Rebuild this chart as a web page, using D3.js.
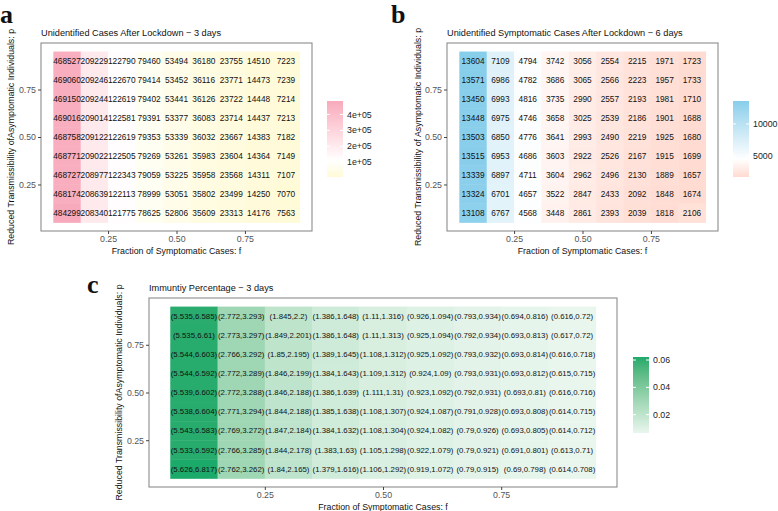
<!DOCTYPE html>
<html>
<head>
<meta charset="utf-8">
<script src="https://cdn.jsdelivr.net/npm/d3@7"></script>
<style>
  html, body { margin: 0; padding: 0; background: #fff; }
  svg text { font-family: "Liberation Sans", Arial, Helvetica, sans-serif; }
</style>
</head>
<body>
<svg id="chart" width="778" height="511"></svg>
<script>
// ---------- DATA ----------
const fValues = [0.1, 0.2, 0.3, 0.4, 0.5, 0.6, 0.7, 0.8, 0.9];        // columns
const pValues = [0.9, 0.8, 0.7, 0.6, 0.5, 0.4, 0.3, 0.2, 0.1];        // rows, top to bottom
const tickValues = [0.25, 0.5, 0.75];

const casesA = [
  [468527, 209229, 122790, 79460, 53494, 36180, 23755, 14510, 7223],
  [469060, 209246, 122670, 79414, 53452, 36116, 23771, 14473, 7239],
  [469150, 209244, 122619, 79402, 53441, 36126, 23722, 14448, 7214],
  [469016, 209014, 122581, 79391, 53377, 36083, 23714, 14437, 7213],
  [468758, 209122, 122619, 79353, 53339, 36032, 23667, 14383, 7182],
  [468771, 209022, 122505, 79269, 53261, 35983, 23604, 14364, 7149],
  [468727, 208977, 122343, 79059, 53225, 35958, 23568, 14311, 7107],
  [468174, 208639, 122113, 78999, 53051, 35802, 23499, 14250, 7070],
  [484299, 208340, 121775, 78625, 52806, 35609, 23313, 14176, 7563]
];
const legendTicksA = [100000, 200000, 300000, 400000];
const legendLabelsA = ["1e+05", "2e+05", "3e+05", "4e+05"];

const casesB = [
  [13604, 7109, 4794, 3742, 3056, 2554, 2215, 1971, 1723],
  [13571, 6986, 4782, 3686, 3065, 2566, 2223, 1957, 1733],
  [13450, 6993, 4816, 3735, 2990, 2557, 2193, 1981, 1710],
  [13448, 6975, 4746, 3658, 3025, 2539, 2186, 1901, 1688],
  [13503, 6850, 4776, 3641, 2993, 2490, 2219, 1925, 1680],
  [13515, 6953, 4686, 3603, 2922, 2526, 2167, 1915, 1699],
  [13339, 6897, 4711, 3604, 2962, 2496, 2130, 1889, 1657],
  [13324, 6701, 4657, 3522, 2847, 2433, 2092, 1848, 1674],
  [13108, 6767, 4568, 3448, 2861, 2393, 2039, 1818, 2106]
];
const legendTicksB = [5000, 10000];
const legendLabelsB = ["5000", "10000"];

const immunityLow = [
  [5.535, 2.772, 1.845, 1.386, 1.11, 0.926, 0.793, 0.694, 0.616],
  [5.535, 2.773, 1.849, 1.386, 1.11, 0.925, 0.792, 0.693, 0.617],
  [5.544, 2.766, 1.85, 1.389, 1.108, 0.925, 0.793, 0.693, 0.616],
  [5.544, 2.772, 1.846, 1.384, 1.109, 0.924, 0.793, 0.693, 0.615],
  [5.539, 2.772, 1.846, 1.386, 1.111, 0.923, 0.792, 0.693, 0.616],
  [5.538, 2.771, 1.844, 1.385, 1.108, 0.924, 0.791, 0.693, 0.614],
  [5.543, 2.769, 1.847, 1.384, 1.108, 0.924, 0.79, 0.693, 0.614],
  [5.533, 2.766, 1.844, 1.383, 1.105, 0.922, 0.79, 0.691, 0.613],
  [5.626, 2.762, 1.84, 1.379, 1.106, 0.919, 0.79, 0.69, 0.614]
];
const immunityHigh = [
  [6.585, 3.293, 2.2, 1.648, 1.316, 1.094, 0.934, 0.816, 0.72],
  [6.61, 3.297, 2.201, 1.648, 1.313, 1.094, 0.934, 0.813, 0.72],
  [6.603, 3.292, 2.195, 1.645, 1.312, 1.092, 0.932, 0.814, 0.718],
  [6.592, 3.289, 2.199, 1.643, 1.312, 1.09, 0.931, 0.812, 0.715],
  [6.602, 3.288, 2.188, 1.639, 1.31, 1.092, 0.931, 0.81, 0.716],
  [6.604, 3.294, 2.188, 1.638, 1.307, 1.087, 0.928, 0.808, 0.715],
  [6.583, 3.272, 2.184, 1.632, 1.304, 1.082, 0.926, 0.805, 0.712],
  [6.592, 3.285, 2.178, 1.63, 1.298, 1.079, 0.921, 0.801, 0.71],
  [6.817, 3.262, 2.165, 1.616, 1.292, 1.072, 0.915, 0.798, 0.708]
];
const legendTicksC = [0.02, 0.04, 0.06];
const legendLabelsC = ["0.02", "0.04", "0.06"];

// ---------- DRAWING ----------
const svg = d3.select("#chart");
svg.append("rect").attr("width", 778).attr("height", 511).attr("fill", "#fff");

function drawHeatmap(cfg) {
  const g = svg.append("g");
  const x = d3.scaleLinear().domain([0.005, 0.995]).range([cfg.left, cfg.right]);
  const y = d3.scaleLinear().domain([0.005, 0.995]).range([cfg.bottom, cfg.top]);

  const cells = [];
  pValues.forEach((p, i) => fValues.forEach((f, j) => {
    cells.push({ f, p, value: cfg.value(i, j), label: cfg.label(i, j) });
  }));

  const vals = cells.map(d => d.value);
  const color = cfg.color(vals);

  // panel border
  g.append("rect")
    .attr("x", cfg.left).attr("y", cfg.top)
    .attr("width", cfg.right - cfg.left).attr("height", cfg.bottom - cfg.top)
    .attr("fill", "#fff").attr("stroke", "#8c8c8c").attr("stroke-width", 1.1);

  // tiles
  g.selectAll("rect.tile").data(cells).join("rect")
    .attr("class", "tile")
    .attr("x", d => x(d.f - 0.05))
    .attr("y", d => y(d.p + 0.05))
    .attr("width", d => x(d.f + 0.05) - x(d.f - 0.05) + 0.4)
    .attr("height", d => y(d.p - 0.05) - y(d.p + 0.05) + 0.4)
    .attr("fill", d => color(d.value));

  // labels
  g.selectAll("text.lab").data(cells).join("text")
    .attr("class", "lab")
    .attr("x", d => x(d.f))
    .attr("y", d => y(d.p))
    .attr("dy", "0.35em")
    .attr("text-anchor", "middle")
    .attr("font-size", cfg.labelSize)
    .attr("fill", "#111")
    .text(d => d.label);

  // axes
  const xa = g.append("g").attr("transform", `translate(0,${cfg.bottom})`)
    .call(d3.axisBottom(x).tickValues(tickValues).tickFormat(d3.format(".2f")).tickSize(3).tickPadding(2));
  const ya = g.append("g").attr("transform", `translate(${cfg.left},0)`)
    .call(d3.axisLeft(y).tickValues(tickValues).tickFormat(d3.format(".2f")).tickSize(3).tickPadding(2));
  [xa, ya].forEach(a => {
    a.select(".domain").remove();
    a.selectAll(".tick line").attr("stroke", "#444");
    a.selectAll(".tick text").attr("fill", "#555").attr("font-size", 8.8)
      .attr("font-family", "Liberation Sans, Arial, sans-serif");
  });

  // titles
  g.append("text").attr("x", cfg.left).attr("y", cfg.top - 7)
    .attr("font-size", 9.2).attr("fill", "#111").text(cfg.title);
  g.append("text").attr("x", (cfg.left + cfg.right) / 2).attr("y", cfg.bottom + 23)
    .attr("text-anchor", "middle").attr("font-size", 8.8).attr("fill", "#111")
    .text("Fraction of Symptomatic Cases: f");
  g.append("text")
    .attr("transform", `translate(${cfg.yTitleX},${(cfg.top + cfg.bottom) / 2}) rotate(-90)`)
    .attr("dy", "0.35em").attr("text-anchor", "middle").attr("font-size", 8.8).attr("fill", "#111")
    .text(cfg.yTitle);

  // panel letter
  g.append("text").attr("x", cfg.letterX).attr("y", cfg.letterY)
    .attr("font-weight", "bold").attr("font-size", 26).attr("fill", "#111")
    .style("font-family", "'Liberation Serif', 'Times New Roman', serif")
    .text(cfg.letter);

  // colour bar legend
  const [vmin, vmax] = d3.extent(vals);
  const ly = d3.scaleLinear().domain([vmin, vmax]).range([cfg.legBottom, cfg.legTop]);
  const gradId = "grad" + cfg.letter;
  const grad = svg.append("defs").append("linearGradient").attr("id", gradId)
    .attr("x1", 0).attr("y1", 1).attr("x2", 0).attr("y2", 0);
  d3.range(0, 1.0001, 0.02).forEach(t => {
    grad.append("stop").attr("offset", t).attr("stop-color", color(vmin + t * (vmax - vmin)));
  });
  const lw = 16;
  g.append("rect").attr("x", cfg.legX).attr("y", cfg.legTop)
    .attr("width", lw).attr("height", cfg.legBottom - cfg.legTop)
    .attr("fill", `url(#${gradId})`);
  cfg.legTicks.forEach((t, k) => {
    const yy = ly(t);
    g.append("line").attr("x1", cfg.legX).attr("x2", cfg.legX + 3).attr("y1", yy).attr("y2", yy)
      .attr("stroke", "#fff").attr("stroke-width", 1);
    g.append("line").attr("x1", cfg.legX + lw - 3).attr("x2", cfg.legX + lw).attr("y1", yy).attr("y2", yy)
      .attr("stroke", "#fff").attr("stroke-width", 1);
    g.append("text").attr("x", cfg.legX + lw + 4).attr("y", yy).attr("dy", "0.35em")
      .attr("font-size", 8.8).attr("fill", "#222").text(cfg.legLabels[k]);
  });
}

function diverging(lowCol, highCol, midFn) {
  return vals => {
    const mid = midFn(vals);
    const [mn, mx] = d3.extent(vals);
    const span = Math.max(mx - mid, mid - mn);
    const lo = d3.interpolateLab("#ffffff", lowCol);
    const hi = d3.interpolateLab("#ffffff", highCol);
    return v => v >= mid ? hi((v - mid) / span) : lo((mid - v) / span);
  };
}

drawHeatmap({
  letter: "a", letterX: 0, letterY: 23,
  left: 41, right: 312, top: 43, bottom: 231,
  yTitleX: 11,
  title: "Unidentified  Cases After Lockdown \u2212 3 days",
  yTitle: "Reduced Transmissibility ofAsymptomatic Individuals: p",
  value: (i, j) => casesA[i][j],
  label: (i, j) => String(casesA[i][j]),
  labelSize: 8.3,
  color: diverging("#fff070", "#f7aabb", v => d3.mean(v)),
  legX: 327, legTop: 101, legBottom: 177,
  legTicks: legendTicksA, legLabels: legendLabelsA
});

drawHeatmap({
  letter: "b", letterX: 391, letterY: 23,
  left: 447, right: 718, top: 43, bottom: 231,
  yTitleX: 418,
  title: "Unidentified Symptomatic Cases After Lockdown \u2212 6 days",
  yTitle: "Reduced Transmissibility of Asymptomatic Individuals: p",
  value: (i, j) => casesB[i][j],
  label: (i, j) => String(casesB[i][j]),
  labelSize: 8.3,
  color: diverging("#f7866e", "#87ceeb", v => d3.mean(v)),
  legX: 733, legTop: 101, legBottom: 177,
  legTicks: legendTicksB, legLabels: legendLabelsB
});

drawHeatmap({
  letter: "c", letterX: 87, letterY: 293,
  left: 149, right: 617, top: 298, bottom: 487,
  yTitleX: 119,
  title: "Immuntiy Percentage \u2212 3 days",
  yTitle: "Reduced Transmissibility ofAsymptomatic Individuals: p",
  value: (i, j) => (immunityLow[i][j] + immunityHigh[i][j]) / 200,
  label: (i, j) => `(${immunityLow[i][j]},${immunityHigh[i][j]})`,
  labelSize: 7.8,
  color: vals => {
    const [mn, mx] = d3.extent(vals);
    const s = d3.scaleLinear().domain([mn, mx]).range([0, 1]);
    const ip = d3.interpolateLab("#e9f6ee", "#1caa6a");
    return v => ip(s(v));
  },
  legX: 633, legTop: 357, legBottom: 433,
  legTicks: legendTicksC, legLabels: legendLabelsC
});
</script>
</body>
</html>
